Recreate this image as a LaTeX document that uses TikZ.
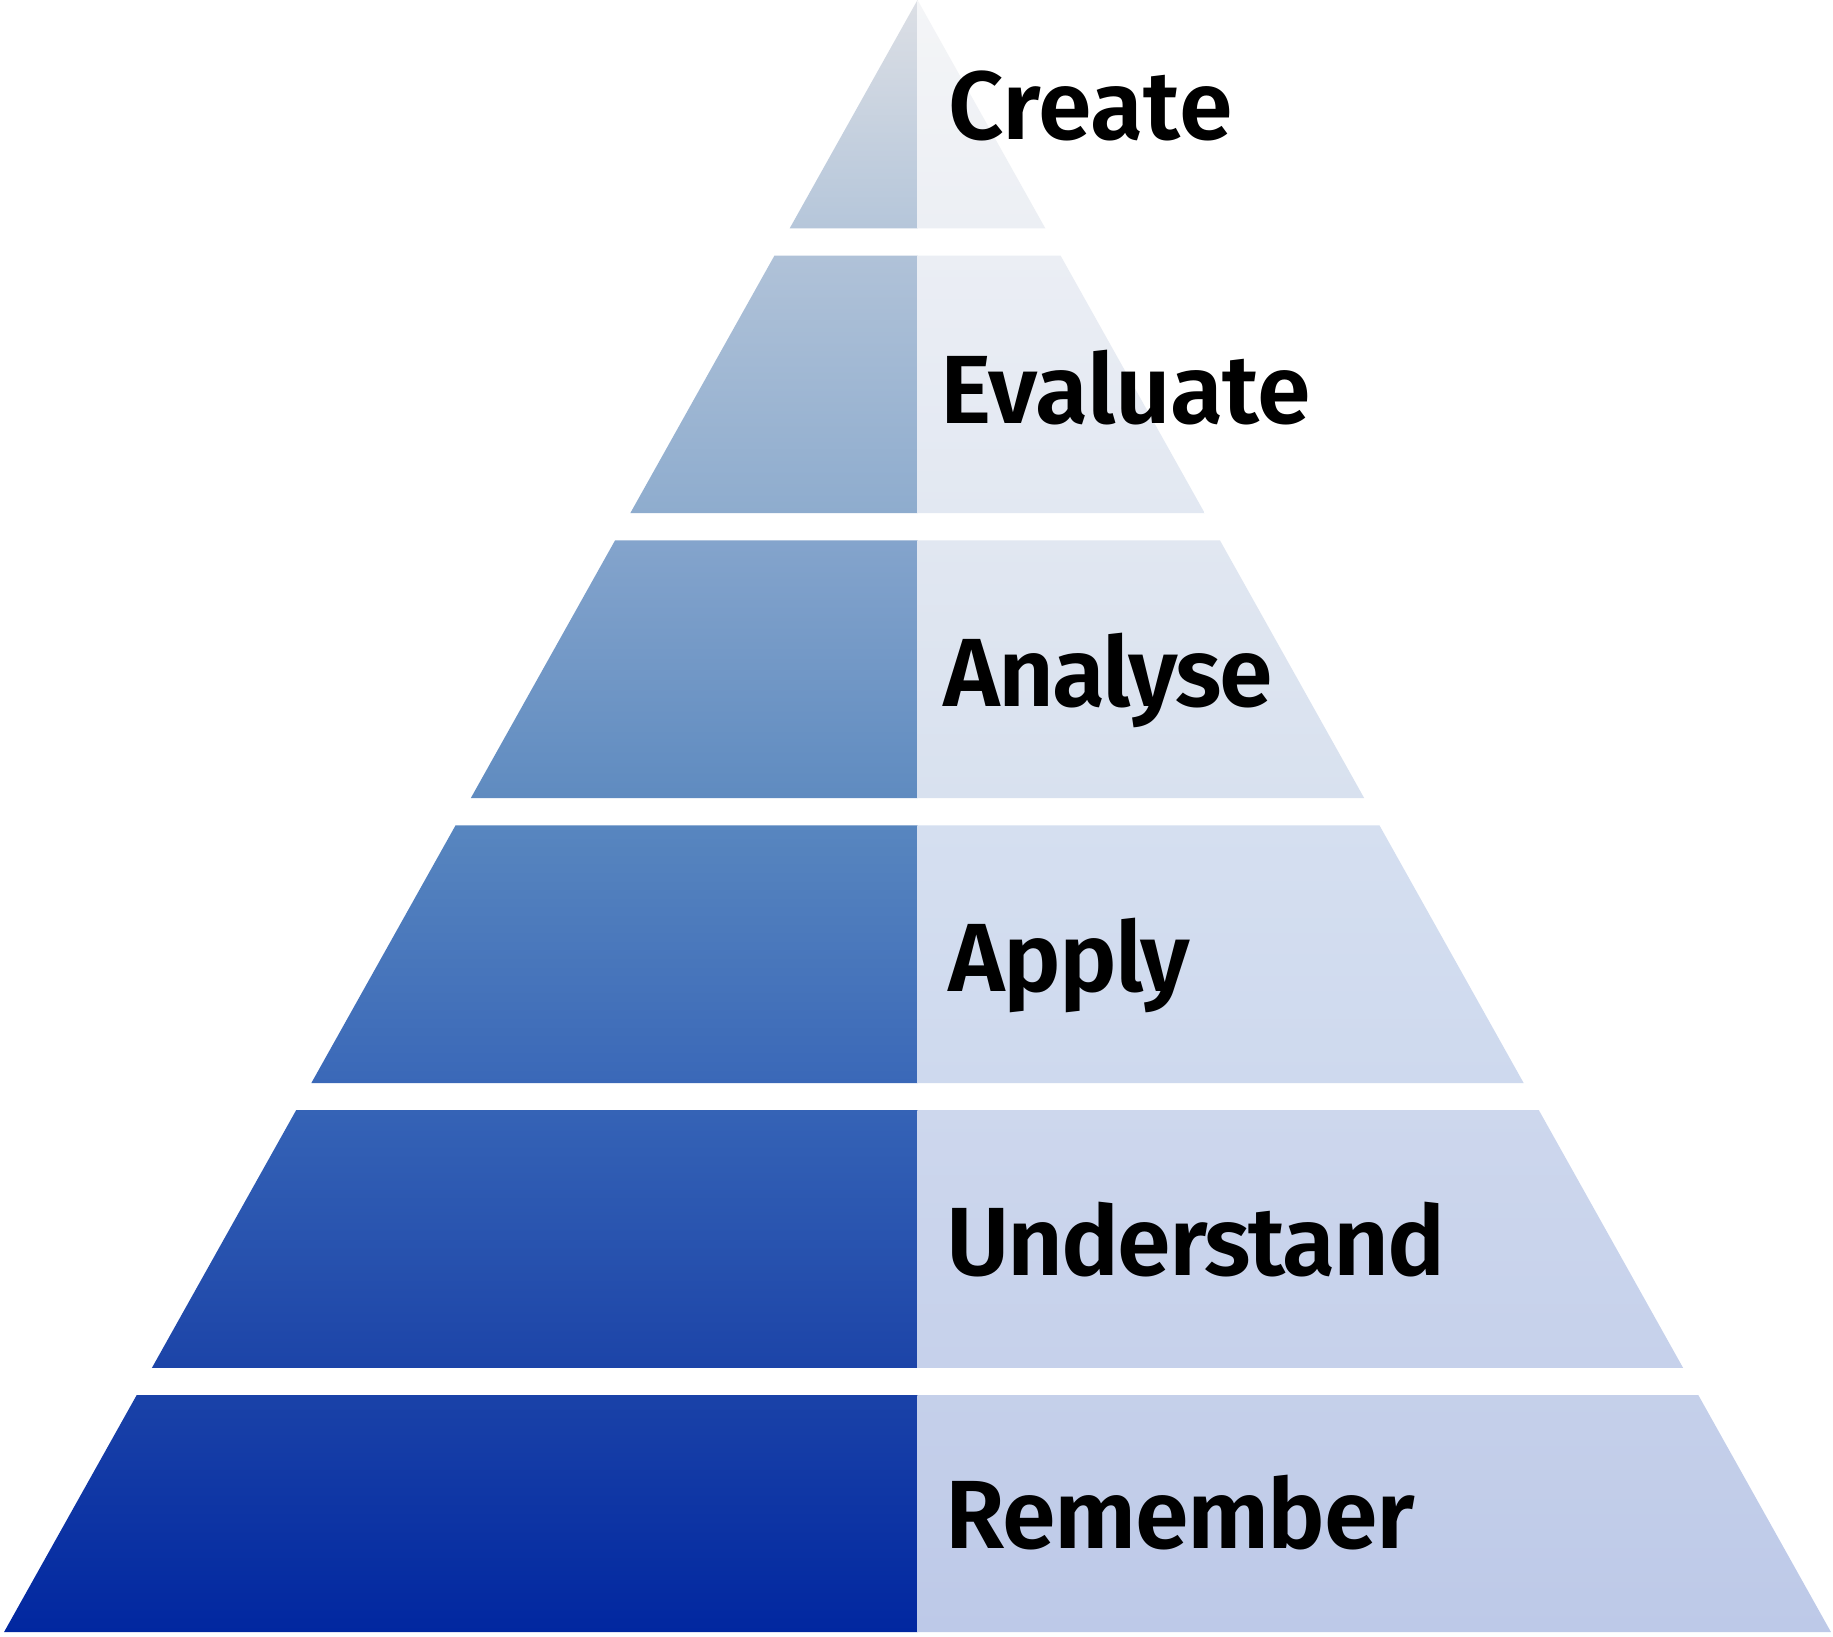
\documentclass[tikz,border=0pt]{standalone}
\usepackage{fontspec}
\setmainfont{Fira Sans}[BoldFont={Fira Sans SemiBold}]
\definecolor{L0}{HTML}{DCDFE5}
\definecolor{L1}{HTML}{B5C6DA}
\definecolor{L2}{HTML}{B0C2D8}
\definecolor{L3}{HTML}{8EACCE}
\definecolor{L4}{HTML}{84A4CC}
\definecolor{L5}{HTML}{5F8BC0}
\definecolor{L6}{HTML}{5886BF}
\definecolor{L7}{HTML}{3A68B8}
\definecolor{L8}{HTML}{3563B6}
\definecolor{L9}{HTML}{1C44A8}
\definecolor{L10}{HTML}{1A42A8}
\definecolor{L11}{HTML}{0127A0}
\definecolor{R0}{HTML}{F4F5F7}
\definecolor{R1}{HTML}{ECEFF4}
\definecolor{R2}{HTML}{EBEEF4}
\definecolor{R3}{HTML}{E2E8F2}
\definecolor{R4}{HTML}{E1E7F1}
\definecolor{R5}{HTML}{D8E1EF}
\definecolor{R6}{HTML}{D5DFF0}
\definecolor{R7}{HTML}{CED9EE}
\definecolor{R8}{HTML}{CDD7ED}
\definecolor{R9}{HTML}{C6D1EB}
\definecolor{R10}{HTML}{C5D0EA}
\definecolor{R11}{HTML}{BDC9E8}
\tikzset{
  lvl/.style={anchor=base west, inner sep=0pt, outer sep=0pt, text=black,
    font=\fontsize{97}{116}\selectfont\bfseries},
}
\newcommand{\lsp}[1]{\addfontfeature{LetterSpace=#1}}
\begin{document}
\begin{tikzpicture}[x=1pt,y=-1pt]
\useasboundingbox (0,0) rectangle (1833,1636);
\fill[white] (0,0) rectangle (1833,1636);
\def\cx{917.5}
\def\sl{0.5597}
\foreach \t/\b/\lt/\lb/\rt/\rb in {
  0/228.3/L0/L1/R0/R1,
  255.5/513.2/L2/L3/R2/R3,
  540.4/798.1/L4/L5/R4/R5,
  825.3/1083/L6/L7/R6/R7,
  1110.2/1367.9/L8/L9/R8/R9,
  1395.1/1632/L10/L11/R10/R11}{
  \shade[top color=\lt, bottom color=\lb]
    ({\cx-\sl*\t},\t) -- (\cx,\t) -- (\cx,\b) -- ({\cx-\sl*\b},\b) -- cycle;
  \shade[top color=\rt, bottom color=\rb]
    (\cx,\t) -- ({\cx+\sl*\t},\t) -- ({\cx+\sl*\b},\b) -- (\cx,\b) -- cycle;
}
\node[lvl] (create) at (948.5,139) {Create};
\node[lvl] (evaluate) at (940,423) {\lsp{-0.6}Evaluate};
\node[lvl] (analyse) at (943,706) {\lsp{-2}Analyse};
\node[lvl] (apply) at (948,991) {\lsp{-1.9}Apply};
\node[lvl] (understand) at (946.5,1275) {\lsp{-2.2}Understand};
\node[lvl] (remember) at (945.5,1548) {\lsp{-1.5}Remember};
\end{tikzpicture}
\end{document}
